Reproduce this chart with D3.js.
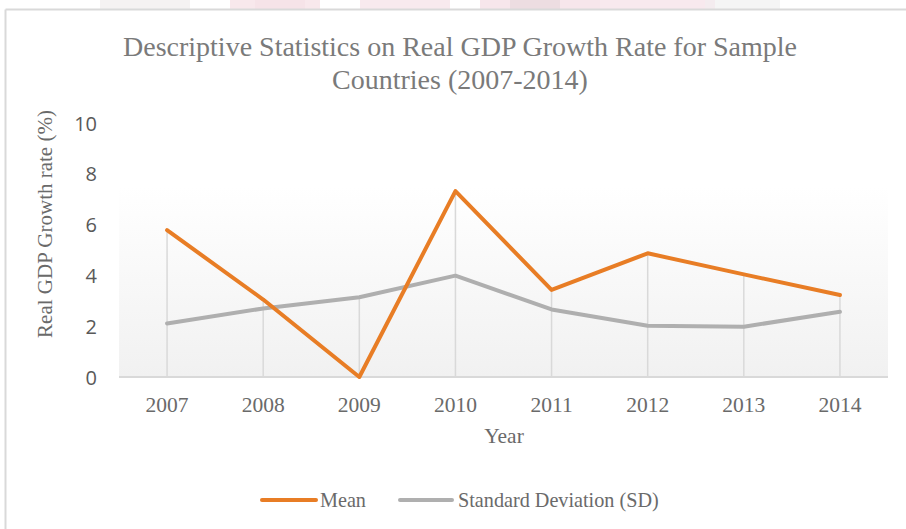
<!DOCTYPE html>
<html><head><meta charset="utf-8">
<script src="https://cdn.jsdelivr.net/npm/d3@7"></script>
<style>html,body{margin:0;padding:0;background:#fff;overflow:hidden}</style>
</head><body>
<svg id="c" width="906" height="529"></svg>
<script>
const years = ["2007","2008","2009","2010","2011","2012","2013","2014"];
const meanValues = [5.78, 3.05, 0.0, 7.32, 3.43, 4.87, 4.04, 3.23];
const sdValues = [2.11, 2.7, 3.14, 3.99, 2.66, 2.02, 1.98, 2.57];
const yTicks = [0, 2, 4, 6, 8, 10];
const seriesNames = ["Mean", "Standard Deviation (SD)"];
const seriesColors = ["#E87D25", "#AFAFAF"];

const svg = d3.select("#c");
const serif = "'Liberation Serif','Times New Roman',serif";
const sans = "'Open Sans','Liberation Sans',sans-serif";
const textColor = "#6a6a6a";

// faint watermark remnants at top
const wm = svg.append("g").attr("opacity", 0.8);
[[100,0,90,9,"#f3f0f0"],[230,0,90,9,"#f7e3e8"],[255,0,50,9,"#f5dde3"],[360,0,90,9,"#f7e6ea"],
 [480,0,120,9,"#f6e1e7"],[510,0,50,9,"#e9d5da"],[600,0,160,9,"#f7e4ea"],[705,0,25,9,"#f2e8ec"],[715,0,65,9,"#f3f3f3"]]
 .forEach(r => wm.append("rect").attr("x", r[0]).attr("y", r[1]).attr("width", r[2]).attr("height", r[3]).attr("fill", r[4]));

// chart frame
svg.append("line").attr("x1", 5.5).attr("x2", 906).attr("y1", 9.5).attr("y2", 9.5).attr("stroke", "#d9d9d9").attr("stroke-width", 2);
svg.append("line").attr("x1", 5.5).attr("x2", 5.5).attr("y1", 9.5).attr("y2", 529).attr("stroke", "#d9d9d9").attr("stroke-width", 2);

const plot = {left: 119, right: 888, top: 123, bottom: 377};
const x = d3.scaleBand().domain(years).range([plot.left, plot.right]);
const y = d3.scaleLinear().domain([0, 10]).range([plot.bottom, plot.top]);
const cx = d => x(d) + x.bandwidth() / 2;

// plot background gradient
const defs = svg.append("defs");
const grad = defs.append("linearGradient").attr("id", "bg").attr("x1", 0).attr("x2", 0).attr("y1", 0).attr("y2", 1);
grad.append("stop").attr("offset", "0%").attr("stop-color", "#ffffff");
grad.append("stop").attr("offset", "25%").attr("stop-color", "#ffffff");
grad.append("stop").attr("offset", "100%").attr("stop-color", "#f1f1f1");
svg.append("rect").attr("x", plot.left).attr("y", plot.top).attr("width", plot.right - plot.left)
  .attr("height", plot.bottom - plot.top).attr("fill", "url(#bg)");

// drop lines
svg.append("g").selectAll("line").data(years).join("line")
  .attr("x1", d => cx(d)).attr("x2", d => cx(d))
  .attr("y1", (d, i) => y(Math.max(meanValues[i], sdValues[i])))
  .attr("y2", plot.bottom)
  .attr("stroke", "#d9d9d9").attr("stroke-width", 1.5);

// baseline
svg.append("line").attr("x1", plot.left).attr("x2", plot.right).attr("y1", plot.bottom).attr("y2", plot.bottom)
  .attr("stroke", "#d9d9d9").attr("stroke-width", 2);

// Y axis ticks
const yAxis = svg.append("g").attr("transform", `translate(${plot.left - 10},0)`)
  .call(d3.axisLeft(y).tickValues(yTicks).tickSize(0).tickPadding(0).tickFormat(d3.format("d")));
yAxis.select(".domain").remove();
yAxis.selectAll("text").attr("font-family", sans).attr("font-size", 20).attr("fill", "#595959").attr("x", -12).attr("dy", "0.35em");

// X axis
const xAxis = svg.append("g").attr("transform", `translate(0,${plot.bottom})`)
  .call(d3.axisBottom(x).tickSize(0).tickPadding(0));
xAxis.select(".domain").remove();
xAxis.selectAll("text").attr("font-family", serif).attr("font-size", 21.5).attr("fill", textColor).attr("y", 27).attr("dy", "0.35em");

// lines
const line = vals => d3.line().x((d, i) => cx(years[i])).y(d => y(d))(vals);
[sdValues, meanValues].forEach((vals, k) => {
  const idx = k === 0 ? 1 : 0;
  svg.append("path").attr("d", line(vals)).attr("fill", "none")
    .attr("stroke", seriesColors[idx]).attr("stroke-width", 4)
    .attr("stroke-linejoin", "round").attr("stroke-linecap", "round");
});

// titles
const title = svg.append("text").attr("text-anchor", "middle").attr("font-family", serif)
  .attr("font-size", 28).attr("fill", "#7a7a7a");
title.append("tspan").attr("x", 460).attr("y", 56).text("Descriptive Statistics on Real GDP Growth Rate for Sample");
title.append("tspan").attr("x", 460).attr("y", 89).text("Countries (2007-2014)");

svg.append("text").attr("x", 504).attr("y", 443).attr("text-anchor", "middle").attr("font-family", serif)
  .attr("font-size", 21.5).attr("fill", textColor).text("Year");

svg.append("text").attr("transform", "translate(52,224) rotate(-90)").attr("text-anchor", "middle")
  .attr("font-family", serif).attr("font-size", 21).attr("fill", textColor).text("Real GDP Growth rate (%)");

// legend
const legendItems = [{x: 262, w: 54, tx: 320}, {x: 400, w: 52, tx: 458}];
legendItems.forEach((it, i) => {
  svg.append("line").attr("x1", it.x).attr("x2", it.x + it.w).attr("y1", 500).attr("y2", 500)
    .attr("stroke", seriesColors[i]).attr("stroke-width", 4).attr("stroke-linecap", "round");
  svg.append("text").attr("x", it.tx).attr("y", 500).attr("dy", "0.35em").attr("font-family", serif)
    .attr("font-size", 20.2).attr("fill", textColor).text(seriesNames[i]);
});
</script>
</body></html>
